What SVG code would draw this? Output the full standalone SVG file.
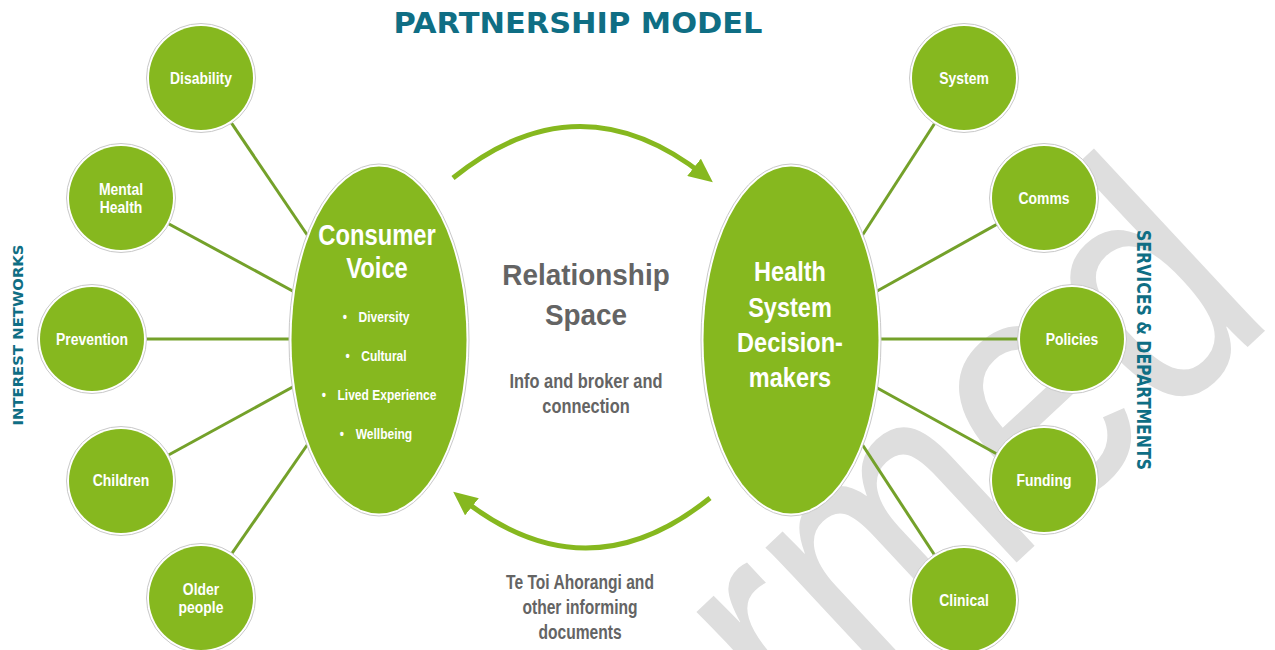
<svg xmlns="http://www.w3.org/2000/svg" width="1275" height="650" viewBox="0 0 1275 650">
<defs>
<style>
.wm{font-family:"Liberation Sans",Arial,sans-serif;font-size:345px;fill:#dedede}
.ring{fill:#fff;stroke:#c9c9c9;stroke-width:1}
.fill{fill:#86B81F}
.lbl{font-family:"Liberation Sans",Arial,sans-serif;font-weight:bold;fill:#fff;text-anchor:middle;font-size:17px}
.big{font-size:29px}
.hs{font-size:28px}
.bul{font-size:14.5px}
.conn{stroke:#74A12A;stroke-width:3;fill:none}
.arc{stroke:#86B81F;stroke-width:5;fill:none}
.grey{font-family:"Liberation Sans",Arial,sans-serif;font-weight:bold;fill:#646464;text-anchor:middle}
.rs{font-size:30px}
.sm{font-size:20px}
.teal{font-family:"DejaVu Sans",Verdana,sans-serif;font-weight:bold;fill:#0F6E84;text-anchor:middle}
</style>
<marker id="ah" viewBox="0 0 24 22" refX="14" refY="11" markerWidth="24" markerHeight="22" markerUnits="userSpaceOnUse" orient="auto">
<path d="M0,0 L24,11 L0,22 z" fill="#86B81F"/>
</marker>
</defs>
<rect width="1275" height="650" fill="#fff"/>
<g id="watermark">
<text class="wm" transform="translate(807,758) rotate(-43) scale(0.82,1)">rmed</text>
</g>
<text class="teal" x="578" y="33" font-size="28" textLength="369" lengthAdjust="spacingAndGlyphs">PARTNERSHIP MODEL</text>
<text class="teal" transform="translate(23,335) rotate(-90)" font-size="14" textLength="181" lengthAdjust="spacingAndGlyphs">INTEREST NETWORKS</text>
<text class="teal" transform="translate(1137,350) rotate(90)" font-size="19" textLength="240" lengthAdjust="spacingAndGlyphs">SERVICES &amp; DEPARTMENTS</text>
<g id="connectors">
<line class="conn" x1="201" y1="78" x2="312" y2="242"/>
<line class="conn" x1="121" y1="198" x2="300" y2="295"/>
<line class="conn" x1="92" y1="339" x2="300" y2="339"/>
<line class="conn" x1="121" y1="481" x2="300" y2="383"/>
<line class="conn" x1="201" y1="598" x2="312" y2="438"/>
<line class="conn" x1="964" y1="78" x2="858" y2="242"/>
<line class="conn" x1="1044" y1="198" x2="870" y2="295"/>
<line class="conn" x1="1072" y1="339" x2="875" y2="339"/>
<line class="conn" x1="1044" y1="480" x2="870" y2="384"/>
<line class="conn" x1="964" y1="600" x2="858" y2="438"/>
<path class="arc" d="M453,178 Q579,76 705,176" marker-end="url(#ah)"/>
<path class="arc" d="M710,498 Q586,598 461,498" marker-end="url(#ah)"/>
</g>
<g id="consumer-voice">
<ellipse class="ring" cx="379" cy="340" rx="90" ry="176"/>
<ellipse class="fill" cx="379" cy="340" rx="87.5" ry="173.5"/>
<text class="lbl big" transform="translate(377,245) scale(0.82,1)">Consumer</text>
<text class="lbl big" transform="translate(377,278) scale(0.82,1)">Voice</text>
<text class="lbl bul" transform="translate(376,322) scale(0.83,1)"><tspan>•</tspan><tspan dx="14">Diversity</tspan></text>
<text class="lbl bul" transform="translate(376,361) scale(0.83,1)"><tspan>•</tspan><tspan dx="14">Cultural</tspan></text>
<text class="lbl bul" transform="translate(379,400) scale(0.83,1)"><tspan>•</tspan><tspan dx="14">Lived Experience</tspan></text>
<text class="lbl bul" transform="translate(376,439) scale(0.83,1)"><tspan>•</tspan><tspan dx="14">Wellbeing</tspan></text>
</g>
<g id="health-system">
<ellipse class="ring" cx="791" cy="340" rx="90" ry="176"/>
<ellipse class="fill" cx="791" cy="340" rx="87.5" ry="173.5"/>
<text class="lbl hs" transform="translate(790,281) scale(0.84,1)">Health</text>
<text class="lbl hs" transform="translate(790,317) scale(0.84,1)">System</text>
<text class="lbl hs" transform="translate(790,352) scale(0.84,1)">Decision-</text>
<text class="lbl hs" transform="translate(790,387) scale(0.84,1)">makers</text>
</g>
<g id="relationship-space">
<text class="grey rs" transform="translate(586,285) scale(0.93,1)">Relationship</text>
<text class="grey rs" transform="translate(586,325) scale(0.93,1)">Space</text>
<text class="grey sm" transform="translate(586,388) scale(0.82,1)">Info and broker and</text>
<text class="grey sm" transform="translate(586,413) scale(0.82,1)">connection</text>
</g>
<g id="te-toi">
<text class="grey sm" transform="translate(580,589) scale(0.78,1)">Te Toi Ahorangi and</text>
<text class="grey sm" transform="translate(580,614) scale(0.78,1)">other informing</text>
<text class="grey sm" transform="translate(580,639) scale(0.78,1)">documents</text>
</g>
<g id="disability"><circle class="ring" cx="201" cy="78" r="54.5"/><circle class="fill" cx="201" cy="78" r="52"/><text class="lbl" transform="translate(201,84) scale(0.82,1)">Disability</text></g>
<g id="mental-health"><circle class="ring" cx="121" cy="198" r="54.5"/><circle class="fill" cx="121" cy="198" r="52"/><text class="lbl" transform="translate(121,195) scale(0.82,1)">Mental</text><text class="lbl" transform="translate(121,213) scale(0.82,1)">Health</text></g>
<g id="prevention"><circle class="ring" cx="92" cy="339" r="54.5"/><circle class="fill" cx="92" cy="339" r="52"/><text class="lbl" transform="translate(92,345) scale(0.82,1)">Prevention</text></g>
<g id="children"><circle class="ring" cx="121" cy="481" r="54.5"/><circle class="fill" cx="121" cy="481" r="52"/><text class="lbl" transform="translate(121,486) scale(0.82,1)">Children</text></g>
<g id="older-people"><circle class="ring" cx="201" cy="598" r="54.5"/><circle class="fill" cx="201" cy="598" r="52"/><text class="lbl" transform="translate(201,595) scale(0.82,1)">Older</text><text class="lbl" transform="translate(201,613) scale(0.82,1)">people</text></g>
<g id="system"><circle class="ring" cx="964" cy="78" r="54.5"/><circle class="fill" cx="964" cy="78" r="52"/><text class="lbl" transform="translate(964,84) scale(0.82,1)">System</text></g>
<g id="comms"><circle class="ring" cx="1044" cy="198" r="54.5"/><circle class="fill" cx="1044" cy="198" r="52"/><text class="lbl" transform="translate(1044,204) scale(0.82,1)">Comms</text></g>
<g id="policies"><circle class="ring" cx="1072" cy="339" r="54.5"/><circle class="fill" cx="1072" cy="339" r="52"/><text class="lbl" transform="translate(1072,345) scale(0.82,1)">Policies</text></g>
<g id="funding"><circle class="ring" cx="1044" cy="480" r="54.5"/><circle class="fill" cx="1044" cy="480" r="52"/><text class="lbl" transform="translate(1044,486) scale(0.82,1)">Funding</text></g>
<g id="clinical"><circle class="ring" cx="964" cy="600" r="54.5"/><circle class="fill" cx="964" cy="600" r="52"/><text class="lbl" transform="translate(964,606) scale(0.82,1)">Clinical</text></g>
</svg>
